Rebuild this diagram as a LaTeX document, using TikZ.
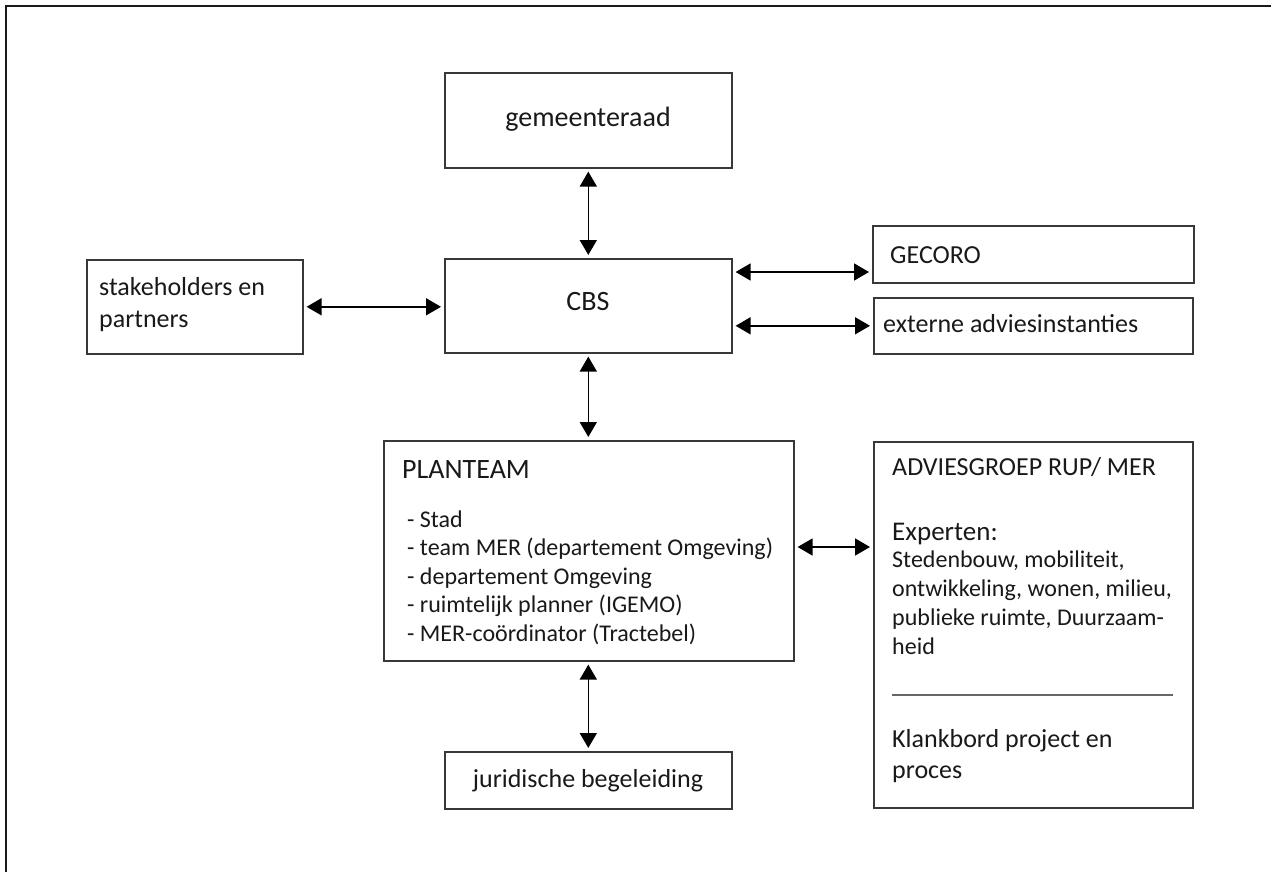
\documentclass[tikz,border=0pt]{standalone}
\usepackage{fontspec}
\setmainfont{Carlito}
\usetikzlibrary{arrows.meta}
\begin{document}
\begin{tikzpicture}[x=1pt,y=-1pt,
  box/.style={draw=black!78, line width=1.6pt, inner sep=0pt, anchor=north west},
  arr/.style={{Triangle[length=15pt,width=17pt]}-{Triangle[length=15pt,width=17pt]}, line width=1.6pt, shorten <=3pt, shorten >=3pt},
  tl/.style={inner sep=0pt, anchor=base west, text=black!90},
  tc/.style={inner sep=0pt, anchor=base, text=black!90},
  fbig/.style={font=\fontsize{28}{34}\selectfont},
  fmid/.style={font=\fontsize{26}{31}\selectfont},
  fsmall/.style={font=\fontsize{24}{29}\selectfont}]
\useasboundingbox (0,0) rectangle (1271,872);
\fill[white] (0,0) rectangle (1271,872);
\draw[line width=2.5pt, black!90] (6,872) -- (6,6) -- (1271,6);

% boxes
\node[box, minimum width=287pt, minimum height=95pt] (gem) at (444,72) {};
\node[box, minimum width=287pt, minimum height=94pt] (cbs) at (444,258) {};
\node[box, minimum width=216pt, minimum height=94pt] (stake) at (86,259) {};
\node[box, minimum width=321pt, minimum height=57pt] (geco) at (872,225) {};
\node[box, minimum width=319pt, minimum height=56pt] (ext) at (873,297) {};
\node[box, minimum width=410pt, minimum height=220pt] (plan) at (383,440) {};
\node[box, minimum width=319pt, minimum height=366pt] (adv) at (873,441) {};
\node[box, minimum width=287pt, minimum height=57pt] (jur) at (444,751) {};

% texts
\node[tc, fbig] (tgem) at (588,127) {gemeenteraad};
\node[tc, fbig] (tcbs) at (588,310) {CBS};
\node[tl, fmid] (ts1) at (99,295) {stakeholders en};
\node[tl, fmid] (ts2) at (99,327) {partners};
\node[tl, fmid] (tgeco) at (890,263) {GECORO};
\node[tl, fmid] (text) at (883,332) {externe adviesinstanties};
\node[tl, fbig] (tplan) at (402,478) {PLANTEAM};
\node[tl, fsmall] (tp1) at (407,527) {- Stad};
\node[tl, fsmall] (tp2) at (407,555) {- team MER (departement Omgeving)};
\node[tl, fsmall] (tp3) at (407,584) {- departement Omgeving};
\node[tl, fsmall] (tp4) at (407,612) {- ruimtelijk planner (IGEMO)};
\node[tl, fsmall] (tp5) at (407,641) {- MER-coördinator (Tractebel)};
\node[tl, fmid] (tadv) at (892,475) {ADVIESGROEP RUP/ MER};
\node[tl, font=\fontsize{27}{32}\selectfont] (texp) at (892,540) {Experten:};
\node[tl, fsmall] (ta1) at (892,567) {Stedenbouw, mobiliteit,};
\node[tl, fsmall] (ta2) at (892,596) {ontwikkeling, wonen, milieu,};
\node[tl, fsmall] (ta3) at (892,625) {publieke ruimte, Duurzaam-};
\node[tl, fsmall] (ta4) at (892,654) {heid};
\draw[black!60, line width=1.3pt] (892,695) -- (1173,695);
\node[tl, fmid] (tk1) at (892,747) {Klankbord project en};
\node[tl, fmid] (tk2) at (892,778) {proces};
\node[tc, fmid] (tjur) at (588,787) {juridische begeleiding};

% connectors
\coordinate (hy1) at (0,272);
\coordinate (hy2) at (0,547);
\draw[arr] (gem.south) -- (cbs.north);
\draw[arr] (stake.east) -- (cbs.west |- stake.east);
\draw[arr] (cbs.east |- hy1) -- (geco.west |- hy1);
\draw[arr] (cbs.east |- ext.west) -- (ext.west);
\draw[arr] (cbs.south) -- (cbs.south |- plan.north);
\draw[arr] (plan.east |- hy2) -- (adv.west |- hy2);
\draw[arr] (plan.south -| jur.north) -- (jur.north);
\end{tikzpicture}
\end{document}
